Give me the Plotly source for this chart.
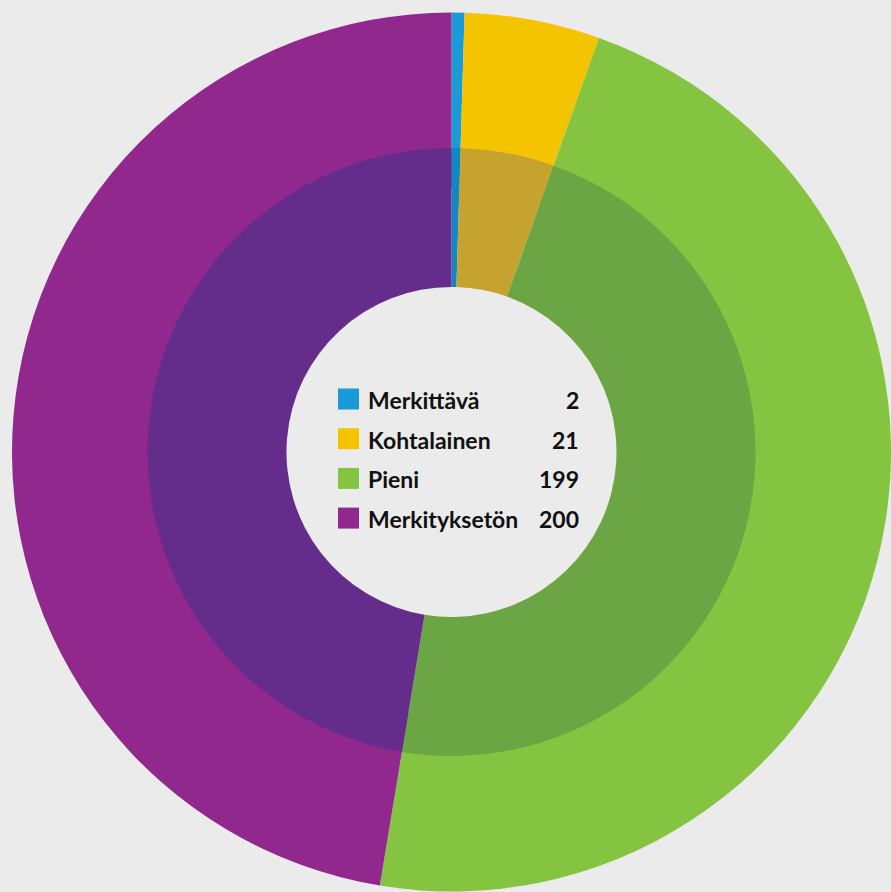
import plotly.graph_objects as go

# data
luokat = ["Merkittävä", "Kohtalainen", "Pieni", "Merkityksetön"]
arvot = [2, 21, 199, 200]
varit_ulko = ["#1A9AD6", "#F5C400", "#84C441", "#91288D"]
varit_sisa = ["#1187C6", "#C6A22F", "#6CA543", "#652D8B"]

W, H = 891, 892
ML, MT = 12, 12  # marginaalit
PW, PH = W - ML, H - MT
tausta = "#EBEBEB"


def px(x):
    return (x - ML) / PW


def py(y):
    return 1 - (y - MT) / PH


fig = go.Figure()

# ulompi rengas
fig.add_trace(go.Pie(
    labels=luokat, values=arvot, sort=False, direction="clockwise", rotation=0,
    marker=dict(colors=varit_ulko, line=dict(width=0)),
    hole=0.6, textinfo="none", hoverinfo="label+value",
    domain=dict(x=[0, 1], y=[0, 1]), showlegend=False,
))

# sisempi rengas (päällä)
r_in = 304
fx = r_in / PW
fy = r_in / PH
fig.add_trace(go.Pie(
    labels=luokat, values=arvot, sort=False, direction="clockwise", rotation=0,
    marker=dict(colors=varit_sisa, line=dict(width=0)),
    hole=165 / 304, textinfo="none", hoverinfo="label+value",
    domain=dict(x=[0.5 - fx, 0.5 + fx], y=[0.5 - fy, 0.5 + fy]), showlegend=False,
))

# selite keskelle
y0 = 399
for i, (nimi, arvo, vari) in enumerate(zip(luokat, arvot, varit_ulko)):
    yy = y0 + i * 39.7
    fig.add_shape(type="rect", xref="paper", yref="paper",
                  x0=px(338), x1=px(359), y0=py(yy + 10.5), y1=py(yy - 10.5),
                  fillcolor=vari, line=dict(width=0))
    fig.add_annotation(x=px(366), y=py(yy + 1), xref="paper", yref="paper",
                       text=f"<b>{nimi}</b>", showarrow=False, xanchor="left", yanchor="middle",
                       font=dict(size=23, color="#111111", family="Lato"))
    fig.add_annotation(x=px(581), y=py(yy + 1), xref="paper", yref="paper",
                       text=f"<b>{arvo}</b>", showarrow=False, xanchor="right", yanchor="middle",
                       font=dict(size=23, color="#111111", family="Lato"))

fig.update_layout(
    width=W, height=H,
    margin=dict(l=ML, r=0, t=MT, b=0),
    paper_bgcolor=tausta, plot_bgcolor=tausta,
)

fig.write_html("out.html", config={"displayModeBar": False},
               post_script="document.body.style.margin='0';"
                           "document.body.style.backgroundColor='%s';"
                           "document.documentElement.style.overflow='hidden';" % tausta)
